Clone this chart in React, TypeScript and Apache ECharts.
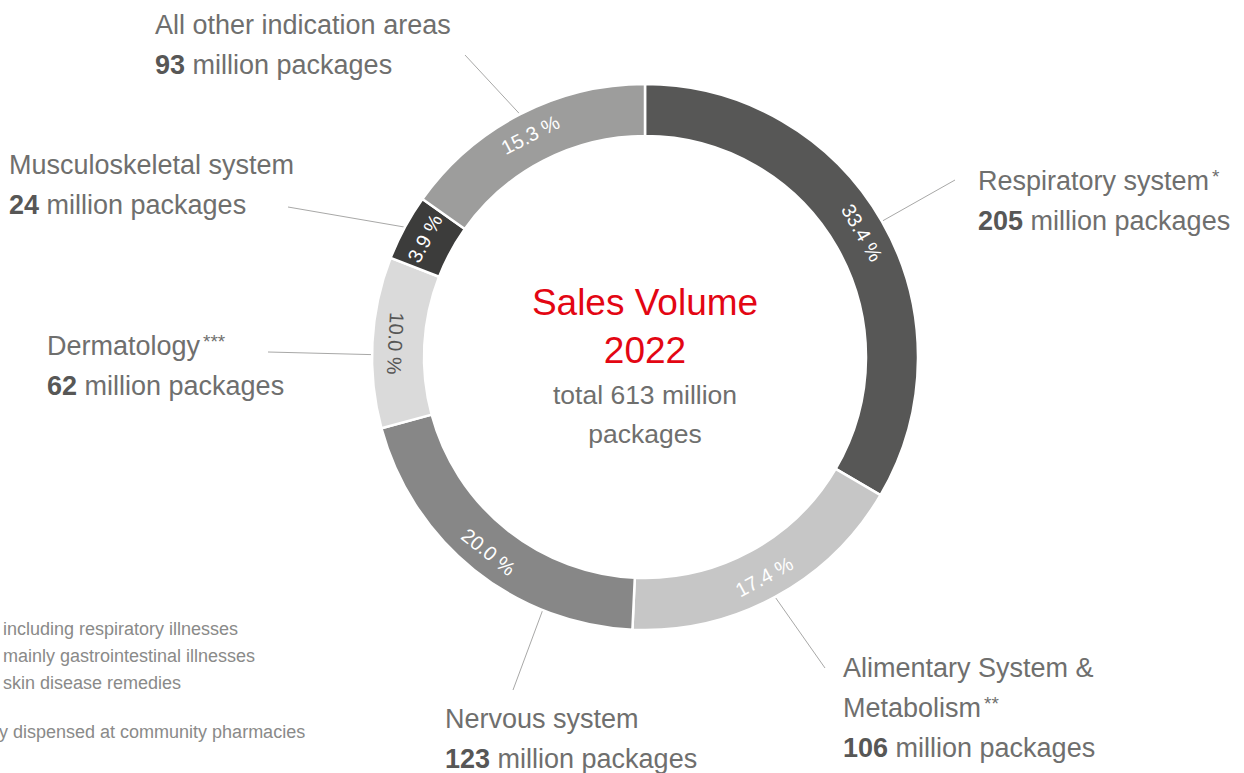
import React, { useEffect, useRef } from "react";
import * as echarts from "echarts";

// ---- data ----
const categories = [
  "Respiratory system",
  "Alimentary System & Metabolism",
  "Nervous system",
  "Dermatology",
  "Musculoskeletal system",
  "All other indication areas",
];
const nameLines = [
  ["Respiratory system"],
  ["Alimentary System &", "Metabolism"],
  ["Nervous system"],
  ["Dermatology"],
  ["Musculoskeletal system"],
  ["All other indication areas"],
];
const footMarks = ["*", "**", "", "***", "", ""];
const packagesMillion = [205, 106, 123, 62, 24, 93];
const sharePercent = [33.4, 17.4, 20.0, 10.0, 3.9, 15.3];
const sliceColors = ["#575756", "#c6c6c6", "#878787", "#dadada", "#3c3c3b", "#9d9d9c"];
const centerTitle = ["Sales Volume", "2022"];
const centerSub = ["total 613 million", "packages"];
const footnotes = [
  "including respiratory illnesses",
  "mainly gastrointestinal illnesses",
  "skin disease remedies",
  "y dispensed at community pharmacies",
];

// ---- layout (positions only) ----
const CX = 645;
const CY = 357;
const R_IN = 221;
const R_OUT = 273;
const FONT = "'Liberation Sans', Arial, Helvetica, sans-serif";
const LABEL_SIZE = 27;
const labelAnchor: number[][] = [
  [978, 201],
  [843, 708],
  [445, 739],
  [47, 366],
  [9, 185],
  [155, 45],
];
const lineEnd: number[][] = [
  [955, 180],
  [825, 668],
  [513, 690],
  [268, 352],
  [288, 207],
  [465, 55],
];
const lineAngleOverride: (number | null)[] = [null, null, 202, 270.5, null, null];
const insideColor = ["#ffffff", "#ffffff", "#ffffff", "#575756", "#ffffff", "#ffffff"];
const insideRotate: (number | null)[] = [null, null, null, -93, null, null];

export default function App() {
  const ref = useRef<HTMLDivElement>(null);
  useEffect(() => {
    if (!ref.current) return;
    const chart = echarts.init(ref.current, undefined, { renderer: "svg" });
    const total = packagesMillion.reduce((a, b) => a + b, 0);
    const midAngles: number[] = [];
    let acc = 0;
    packagesMillion.forEach((v) => {
      midAngles.push(((acc + v / 2) / total) * 360);
      acc += v;
    });

    const innerData = categories.map((name, i) => ({
      name,
      value: packagesMillion[i],
      itemStyle: { color: sliceColors[i] },
      label: {
        color: insideColor[i],
        ...(insideRotate[i] !== null ? { rotate: insideRotate[i] } : {}),
      },
    }));
    const outerData = categories.map((name, i) => ({
      name,
      value: packagesMillion[i],
    }));

    const graphics: any[] = [];
    centerTitle.forEach((t, k) =>
      graphics.push({
        type: "text",
        x: CX,
        y: 302 + k * 48,
        style: {
          text: t,
          fill: "#e30613",
          font: `37px ${FONT}`,
          align: "center",
          verticalAlign: "middle",
        },
      })
    );
    centerSub.forEach((t, k) =>
      graphics.push({
        type: "text",
        x: CX,
        y: 395 + k * 39,
        style: {
          text: t,
          fill: "#6f6f6e",
          font: `26.5px ${FONT}`,
          align: "center",
          verticalAlign: "middle",
        },
      })
    );
    footnotes.forEach((t, k) =>
      graphics.push({
        type: "text",
        x: k === 3 ? -1 : 3,
        y: k === 3 ? 732 : 629 + k * 27,
        style: {
          text: t,
          fill: "#8a8a89",
          font: `18px ${FONT}`,
          align: "left",
          verticalAlign: "middle",
        },
      })
    );

    const option: any = {
      animation: false,
      backgroundColor: "#ffffff",
      series: [
        {
          type: "pie",
          center: [CX, CY],
          radius: [R_IN, R_OUT],
          startAngle: 90,
          clockwise: true,
          silent: true,
          avoidLabelOverlap: false,
          itemStyle: { borderColor: "#ffffff", borderWidth: 2.5 },
          label: {
            show: true,
            position: "inside",
            rotate: "tangential",
            fontFamily: FONT,
            fontSize: 20,
            color: "#ffffff",
            formatter: (p: any) => sharePercent[p.dataIndex].toFixed(1) + " %",
          },
          labelLine: { show: false },
          emphasis: { disabled: true },
          data: innerData,
        },
        {
          type: "pie",
          center: [CX, CY],
          radius: [R_IN, R_OUT],
          startAngle: 90,
          clockwise: true,
          silent: true,
          z: 1,
          avoidLabelOverlap: false,
          itemStyle: { color: "rgba(0,0,0,0)" },
          label: {
            show: true,
            position: "outside",
            fontFamily: FONT,
            fontSize: LABEL_SIZE,
            lineHeight: 40,
            color: "#6f6f6e",
            align: "left",
            formatter: (p: any) => {
              const i = p.dataIndex;
              const lines = nameLines[i].slice();
              const last = lines.length - 1;
              if (footMarks[i]) lines[last] = lines[last] + "{sup|" + footMarks[i] + "}";
              return lines.join("\n") + "\n{b|" + packagesMillion[i] + "} million packages";
            },
            rich: {
              b: {
                fontFamily: FONT,
                fontSize: LABEL_SIZE,
                fontWeight: "bold",
                color: "#575756",
                lineHeight: 40,
              },
              sup: {
                fontFamily: FONT,
                fontSize: 19,
                lineHeight: 19,
                color: "#6f6f6e",
                padding: [0, 0, 9, 3],
              },
            },
          },
          labelLine: {
            show: true,
            lineStyle: { color: "#a8a8a7", width: 1 },
          },
          labelLayout: (params: any) => {
            const i = params.dataIndex;
            const ang = ((lineAngleOverride[i] ?? midAngles[i]) * Math.PI) / 180;
            const sx = CX + Math.sin(ang) * (R_OUT + 1);
            const sy = CY - Math.cos(ang) * (R_OUT + 1);
            return {
              x: labelAnchor[i][0],
              y: labelAnchor[i][1],
              align: "left",
              verticalAlign: "middle",
              labelLinePoints: [
                [sx, sy],
                [lineEnd[i][0], lineEnd[i][1]],
                [lineEnd[i][0], lineEnd[i][1]],
              ],
            };
          },
          emphasis: { disabled: true },
          data: outerData,
        },
      ],
      graphic: graphics,
    };
    chart.setOption(option);
    return () => chart.dispose();
  }, []);
  return (
    <div
      ref={ref}
      style={{ position: "fixed", left: 0, top: 0, width: 1244, height: 773, background: "#fff" }}
    />
  );
}
